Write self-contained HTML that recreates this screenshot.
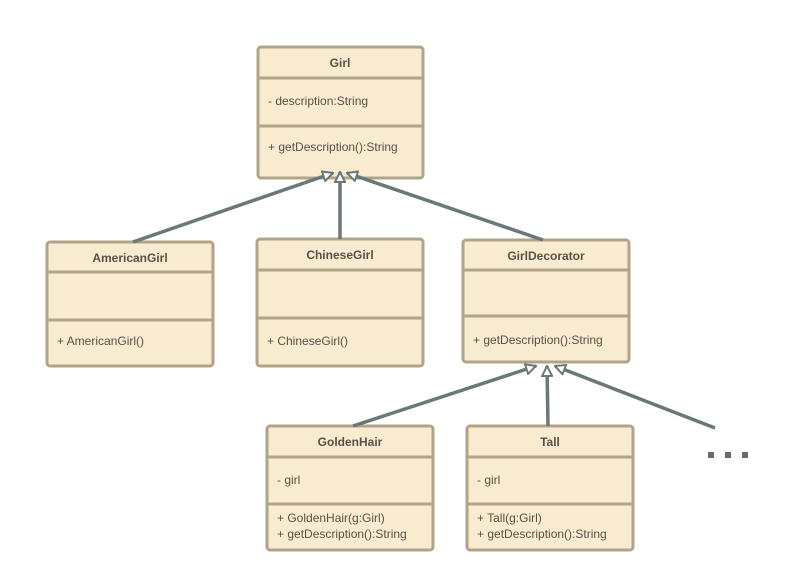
<!DOCTYPE html>
<html><head><style>body{margin:0;background:#fff}svg{display:block}text{font-family:"Liberation Sans",sans-serif;font-size:12px;fill:#5a5046}.t{font-weight:bold;text-anchor:middle}</style></head><body>
<svg width="811" height="582" viewBox="0 0 811 582">
<defs><marker id="a" viewBox="0 0 12 12" refX="11" refY="6" markerWidth="12" markerHeight="12" markerUnits="userSpaceOnUse" orient="auto"><path d="M1,1 L11,6 L1,11 Z" fill="#fff" stroke="#6b7878" stroke-width="2"/></marker></defs>
<g fill="#6b6b6b"><rect x="708" y="452" width="6" height="6"/><rect x="725" y="452" width="6" height="6"/><rect x="742" y="452" width="6" height="6"/></g>
<g fill="#f8ebcf" stroke="#b0a48a" stroke-width="3">
<rect x="258" y="47" width="165" height="131" rx="3"/>
<rect x="47" y="242" width="166" height="124" rx="3"/>
<rect x="257" y="239" width="166" height="127" rx="3"/>
<rect x="463" y="240" width="166" height="122" rx="3"/>
<rect x="267" y="426" width="166" height="124" rx="3"/>
<rect x="467" y="426" width="166" height="124" rx="3"/>
</g>
<g stroke="#b0a48a" stroke-width="3">
<line x1="258" y1="78" x2="423" y2="78"/><line x1="258" y1="126" x2="423" y2="126"/>
<line x1="47" y1="272" x2="213" y2="272"/><line x1="47" y1="320" x2="213" y2="320"/>
<line x1="257" y1="270" x2="423" y2="270"/><line x1="257" y1="318" x2="423" y2="318"/>
<line x1="463" y1="270" x2="629" y2="270"/><line x1="463" y1="316" x2="629" y2="316"/>
<line x1="267" y1="457" x2="433" y2="457"/><line x1="267" y1="504" x2="433" y2="504"/>
<line x1="467" y1="457" x2="633" y2="457"/><line x1="467" y1="504" x2="633" y2="504"/>
</g>
<g stroke="#6b7878" stroke-width="3.5" fill="none" marker-end="url(#a)">
<line x1="133" y1="242" x2="333" y2="173"/>
<line x1="340" y1="239" x2="340" y2="172"/>
<line x1="543" y1="240" x2="347" y2="173"/>
<line x1="353" y1="426" x2="536" y2="366"/>
<line x1="548" y1="426" x2="547" y2="366"/>
<line x1="715" y1="428" x2="555" y2="366"/>
</g>
<text class="t" x="340" y="67">Girl</text>
<text x="268" y="105">- description:String</text>
<text x="268" y="151">+ getDescription():String</text>
<text class="t" x="130" y="262">AmericanGirl</text>
<text x="57" y="345">+ AmericanGirl()</text>
<text class="t" x="340" y="259">ChineseGirl</text>
<text x="267" y="345">+ ChineseGirl()</text>
<text class="t" x="546" y="260">GirlDecorator</text>
<text x="473" y="344">+ getDescription():String</text>
<text class="t" x="350" y="446">GoldenHair</text>
<text x="277" y="484">- girl</text>
<text x="277" y="522">+ GoldenHair(g:Girl)</text>
<text x="277" y="538">+ getDescription():String</text>
<text class="t" x="550" y="446">Tall</text>
<text x="477" y="484">- girl</text>
<text x="477" y="522">+ Tall(g:Girl)</text>
<text x="477" y="538">+ getDescription():String</text>
</svg>
</body></html>
